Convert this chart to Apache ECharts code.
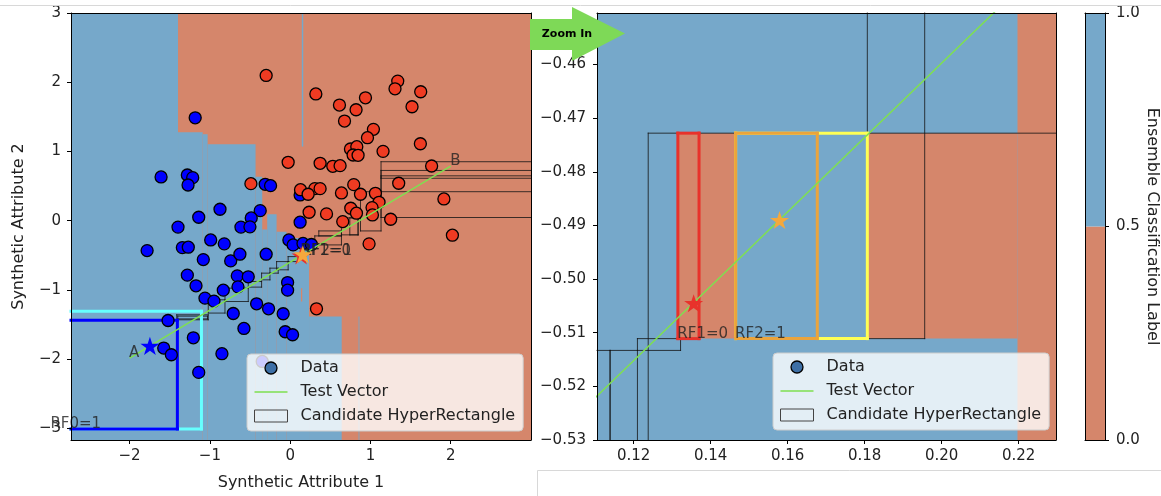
<!DOCTYPE html>
<html>
<head>
<meta charset="utf-8">
<script src="https://cdn.jsdelivr.net/npm/echarts@6/dist/echarts.min.js"></script>
<style>
  html, body { margin: 0; padding: 0; background: #ffffff; }
  #chart { width: 1161px; height: 496px; }
</style>
</head>
<body>
<div id="chart"></div>
<script>
// ---------- data ----------
// Sample points, class 1 (blue) and class 0 (red)
const class1Points = [
  [-1.183, 1.486], [-1.608, 0.631], [-1.281, 0.659], [-1.214, 0.621], [-1.272, 0.515],
  [-0.874, 0.164], [-1.139, 0.049], [-1.397, -0.094], [-0.373, 0.144], [-0.485, 0.039],
  [-0.613, -0.094], [-0.501, -0.090], [-0.311, 0.525], [-0.244, 0.505], [0.124, 0.371],
  [0.124, -0.023], [-1.782, -0.433], [-1.343, -0.390], [-1.269, -0.384], [-0.990, -0.279],
  [-0.821, -0.336], [-1.082, -0.563], [-0.741, -0.582], [-0.626, -0.485], [-0.299, -0.485],
  [-0.016, -0.279], [0.037, -0.351], [0.160, -0.330], [0.265, -0.345], [-1.281, -0.788],
  [-1.173, -0.942], [-0.659, -0.798], [-0.522, -0.812], [-0.833, -1.005], [-0.650, -0.957],
  [-1.061, -1.120], [-0.949, -1.163], [-0.418, -1.202], [-0.269, -1.274], [-0.032, -0.895],
  [-0.032, -1.005], [-0.087, -1.346], [-0.709, -1.342], [-1.521, -1.443], [-0.576, -1.558],
  [-0.062, -1.606], [0.030, -1.649], [-1.206, -1.693], [-1.575, -1.841], [-1.480, -1.938],
  [-0.850, -1.923], [-1.139, -2.193], [-0.348, -2.035]
];
const class0Points = [
  [-0.299, 2.098], [0.320, 1.830], [1.340, 2.016], [1.306, 1.905], [1.626, 1.862],
  [1.518, 1.645], [0.614, 1.670], [0.938, 1.775], [0.821, 1.602], [0.677, 1.439],
  [1.037, 1.319], [0.963, 1.198], [1.622, 1.111], [0.751, 1.035], [0.830, 1.068],
  [0.784, 0.948], [0.846, 0.944], [1.157, 1.001], [-0.025, 0.843], [0.373, 0.828],
  [0.531, 0.785], [0.622, 0.794], [1.762, 0.789], [-0.489, 0.534], [1.352, 0.540],
  [0.792, 0.520], [0.129, 0.447], [0.307, 0.462], [0.373, 0.462], [0.224, 0.381],
  [0.639, 0.400], [0.876, 0.381], [1.062, 0.395], [1.915, 0.313], [1.107, 0.265],
  [0.755, 0.179], [1.020, 0.188], [0.826, 0.107], [1.025, 0.082], [0.236, 0.121],
  [0.453, 0.097], [0.655, -0.014], [1.252, 0.020], [2.021, -0.211], [0.983, -0.336],
  [0.328, -1.274]
];

// Test vector end points and the stars placed on it
const pointA = [-2, -1.9855];
const pointB = [2, 0.7886];
const starStart = [-1.747, -1.810];
const starRF1 = [0.1356, -0.5045];
const starRF2 = [0.1579, -0.4890];

// Ensemble decision regions: [x0, x1, y0, y1, label]
const leftRegionCells = [
  [-4, 4, -4, 4, 0],
  [-4, -1.397, -4, 4, 1],
  [-1.397, -1.090, -4, 1.276, 1],
  [-1.090, -1.028, -4, 1.247, 1],
  [-1.028, -0.431, -4, 1.102, 1],
  [-0.431, -0.348, -4, 0.635, 1],
  [-0.348, -0.286, -4, -0.130, 1],
  [-0.286, -0.169, -4, 0.092, 1],
  [-0.169, -0.045, -4, -0.160, 1],
  [-0.045, 0.235, -4, -0.250, 1],
  [0.235, 0.642, -4, -1.385, 1],
  [0.145, 0.163, 1.070, 4, 1],
  [0.852, 0.862, -4, -1.385, 1],
  [0.135, 0.150, -1.169, -0.976, 0]
];
const rightRegionCells = [
  [0, 1, -1, 0, 1],
  [0.2197, 1, -1, 0, 0],
  [0.1315, 0.1465, -0.5111, -0.4728, 0],
  [0.1807, 0.2197, -0.5111, -0.4728, 0]
];
const colorbarCells = [
  [0, 1, 0, 0.5, 0],
  [0, 1, 0.5, 1, 1]
];

// Candidate hyper-rectangles: [x0, x1, y0, y1]
const leftCandidateBoxes = [
  [-1.413, -1.020, -1.433, -1.361],
  [-1.400, -1.030, -1.420, -1.380],
  [-1.020, -0.812, -1.336, -1.144],
  [-0.812, -0.522, -1.169, -0.976],
  [-0.522, -0.356, -0.961, -0.880],
  [-0.356, -0.252, -0.856, -0.759],
  [-0.252, -0.149, -0.759, -0.687],
  [-0.169, -0.025, -0.711, -0.592],
  [-0.025, 0.100, -0.592, -0.520],
  [0.307, 0.639, -0.351, -0.221],
  [0.357, 0.639, -0.221, -0.149],
  [0.639, 0.846, -0.206, 0.040],
  [0.743, 0.846, -0.206, 0.040],
  [0.876, 1.132, -0.149, 0.418],
  [1.132, 4, 0.045, 0.851],
  [1.132, 4, 0.418, 0.725],
  [1.132, 4, 0.612, 0.647]
];
const rightCandidateBoxes = [
  [0.1238, 1, -1, -0.4728],
  [0.1807, 0.1956, -0.5111, 0],
  [0.1210, 0.1322, -0.5133, -0.5111],
  [0, 0.1139, -1, -0.5133],
  [0.1139, 0.1210, -1, -0.5133]
];

// Per-forest boxes
const rf0Boxes = [
  [-3.2, -1.105, -3.01, -1.31],
  [-3.2, -1.405, -3.01, -1.44]
];
const rf12Boxes = [
  [0.1465, 0.1807, -0.5111, -0.4728],
  [0.1465, 0.1677, -0.5111, -0.4728],
  [0.1315, 0.1370, -0.5111, -0.4728]
];

// Annotations
const leftNoteTexts = ['A', 'B', 'RF0=1', 'RF1=0', 'RF2=1'];
const leftNoteAnchors = [pointA, pointB, [-2.98, -3.01], [0.1315, -0.5111], [0.1465, -0.5111]];
const rightNoteTexts = ['RF1=0', 'RF2=1'];
const rightNoteAnchors = [[0.1315, -0.5111], [0.1465, -0.5111]];

// Tick values
const leftXTicks = [-2, -1, 0, 1, 2];
const leftYTicks = [-3, -2, -1, 0, 1, 2, 3];
const rightXTicks = [0.12, 0.14, 0.16, 0.18, 0.20, 0.22];
const rightYTicks = [-0.53, -0.52, -0.51, -0.50, -0.49, -0.48, -0.47, -0.46];
const colorbarTicks = [0, 0.5, 1];

// ---------- styles ----------
const FONT = 'DejaVu Sans';
const TEXT = '#222222';
const REGION_COLORS = ['#d5866b', '#76a8ca'];   // label 0, label 1
const RED_PT = '#ef3b22';
const BLUE_PT = '#0000ff';
const LINE_GREEN = '#7fe050';
const BOX_LINE = 'rgba(20,20,20,0.8)';
const RF0_COLORS = ['#66ffff', '#0000ff'];
const RF12_COLORS = ['#ffff55', '#eba43c', '#e8322b'];
const STAR = 'path://M50,0L61.2,34.5L97.6,34.5L68.2,55.9L79.4,90.5L50,69.1L20.6,90.5L31.8,55.9L2.4,34.5L38.8,34.5Z';

const LEFT = { x: [-2.73, 3.0], y: [-3.17, 3.0] };
const RIGHT = { x: [0.1105, 0.2297], y: [-0.53, -0.4504] };
const CB = { x: [0, 1], y: [0, 1] };

const minusFmt = d => v => (v < 0 ? '\u2212' : '') + Math.abs(v).toFixed(d);

// ---------- renderers ----------
function cellRenderer(range, palette) {
  return function (params, api) {
    const x0 = Math.max(api.value(0), range.x[0]);
    const x1 = Math.min(api.value(1), range.x[1]);
    const y0 = Math.max(api.value(2), range.y[0]);
    const y1 = Math.min(api.value(3), range.y[1]);
    if (!(x0 < x1 && y0 < y1)) return null;
    const p = api.coord([x0, y1]);
    const q = api.coord([x1, y0]);
    return {
      type: 'rect',
      shape: { x: p[0], y: p[1], width: q[0] - p[0], height: q[1] - p[1] },
      style: { fill: palette[api.value(4)] }
    };
  };
}

// Draws the visible edges of a box, clipped to the axis ranges
function outlineRenderer(range, colorOf, width) {
  return function (params, api) {
    const x0 = api.value(0), x1 = api.value(1), y0 = api.value(2), y1 = api.value(3);
    const segs = [];
    [y0, y1].forEach(function (y) {
      if (y < range.y[0] || y > range.y[1]) return;
      const a = Math.max(x0, range.x[0]), b = Math.min(x1, range.x[1]);
      if (a < b) segs.push([[a, y], [b, y]]);
    });
    [x0, x1].forEach(function (x) {
      if (x < range.x[0] || x > range.x[1]) return;
      const a = Math.max(y0, range.y[0]), b = Math.min(y1, range.y[1]);
      if (a < b) segs.push([[x, a], [x, b]]);
    });
    const stroke = colorOf(params.dataIndex);
    return {
      type: 'group',
      children: segs.map(function (s) {
        const p = api.coord(s[0]), q = api.coord(s[1]);
        return {
          type: 'line',
          shape: { x1: p[0], y1: p[1], x2: q[0], y2: q[1] },
          style: { stroke: stroke, lineWidth: width, lineCap: 'square' }
        };
      })
    };
  };
}

// ---------- axes ----------
function valueAxis(grid, pos, range, ticks, fmt, extra) {
  const showLabels = !!ticks;
  return Object.assign({
    type: 'value', gridIndex: grid, position: pos,
    min: range[0], max: range[1], z: 10,
    axisLine: { show: true, onZero: false, lineStyle: { color: '#000', width: 1 } },
    axisTick: showLabels
      ? { show: true, length: 4, customValues: ticks, lineStyle: { color: '#000', width: 1 } }
      : { show: false },
    axisLabel: showLabels
      ? { show: true, customValues: ticks, formatter: fmt, fontFamily: FONT, fontSize: 15, color: TEXT, margin: 9 }
      : { show: false },
    splitLine: { show: false }
  }, extra || {});
}

const xAxes = [
  valueAxis(0, 'bottom', LEFT.x, leftXTicks, minusFmt(0), {
    name: 'Synthetic Attribute 1', nameLocation: 'middle', nameGap: 35,
    nameTextStyle: { fontFamily: FONT, fontSize: 16, color: TEXT }
  }),
  valueAxis(0, 'top', LEFT.x, null),
  valueAxis(1, 'bottom', RIGHT.x, rightXTicks, minusFmt(2)),
  valueAxis(1, 'top', RIGHT.x, null),
  valueAxis(2, 'bottom', CB.x, null),
  valueAxis(2, 'top', CB.x, null)
];
const yAxes = [
  valueAxis(0, 'left', LEFT.y, leftYTicks, minusFmt(0), {
    name: 'Synthetic Attribute 2', nameLocation: 'middle', nameGap: 44, nameRotate: 90,
    nameTextStyle: { fontFamily: FONT, fontSize: 16, color: TEXT }
  }),
  valueAxis(0, 'right', LEFT.y, null),
  valueAxis(1, 'left', RIGHT.y, rightYTicks, minusFmt(2)),
  valueAxis(1, 'right', RIGHT.y, null),
  valueAxis(2, 'right', CB.y, colorbarTicks, minusFmt(1), {
    name: 'Ensemble Classification Label', nameLocation: 'middle', nameGap: 25, nameRotate: -90,
    nameTextStyle: { fontFamily: FONT, fontSize: 16, color: TEXT }
  }),
  valueAxis(2, 'left', CB.y, null)
];
yAxes[2].axisLabel.margin = 11;
yAxes[0].axisLabel.margin = 10;
yAxes[4].axisLabel.margin = 11;

// ---------- series ----------
function noteSeries(xi, yi, texts, anchors) {
  return {
    type: 'scatter', xAxisIndex: xi, yAxisIndex: yi, name: 'notes',
    clip: false, silent: true, z: 6,
    symbol: 'circle', symbolSize: 1,
    itemStyle: { color: 'rgba(0,0,0,0)' },
    label: {
      show: true, position: [0, 0], align: 'left', verticalAlign: 'bottom', offset: [0, 3],
      fontFamily: FONT, fontSize: 15, color: TEXT,
      formatter: function (p) { return p.name; }
    },
    data: texts.map(function (t, i) { return { name: t, value: anchors[i] }; })
  };
}
function starSeries(xi, yi, pos, color, size) {
  return {
    type: 'scatter', xAxisIndex: xi, yAxisIndex: yi, name: 'star',
    silent: true, z: 7, symbol: STAR, symbolSize: size, symbolKeepAspect: true,
    itemStyle: { color: color, opacity: 1 },
    data: [pos]
  };
}
function pointSeries(points, color) {
  return {
    type: 'scatter', xAxisIndex: 0, yAxisIndex: 0, name: 'Data',
    silent: true, z: 3, symbol: 'circle', symbolSize: 12,
    itemStyle: { color: color, borderColor: '#000', borderWidth: 1.3, opacity: 1 },
    data: points
  };
}

const series = [
  // left panel
  { type: 'custom', name: 'regions', xAxisIndex: 0, yAxisIndex: 0, silent: true, z: 1,
    renderItem: cellRenderer(LEFT, REGION_COLORS), data: leftRegionCells },
  { type: 'custom', name: 'Candidate HyperRectangle', xAxisIndex: 0, yAxisIndex: 0, silent: true, z: 2,
    renderItem: outlineRenderer(LEFT, function () { return BOX_LINE; }, 1), data: leftCandidateBoxes },
  { type: 'custom', name: 'rf0', xAxisIndex: 0, yAxisIndex: 0, silent: true, z: 2,
    renderItem: outlineRenderer(LEFT, function (i) { return RF0_COLORS[i]; }, 3), data: rf0Boxes },
  { type: 'custom', name: 'rf12', xAxisIndex: 0, yAxisIndex: 0, silent: true, z: 2,
    renderItem: outlineRenderer(LEFT, function (i) { return RF12_COLORS[i]; }, 2), data: rf12Boxes },
  pointSeries(class1Points, BLUE_PT),
  pointSeries(class0Points, RED_PT),
  { type: 'line', name: 'Test Vector', xAxisIndex: 0, yAxisIndex: 0, silent: true, z: 5,
    showSymbol: false, symbol: 'none', clip: true,
    lineStyle: { color: LINE_GREEN, width: 1.5 }, itemStyle: { color: LINE_GREEN },
    data: [pointA, pointB] },
  noteSeries(0, 0, leftNoteTexts, leftNoteAnchors),
  starSeries(0, 0, starStart, '#0000ff', 19),
  starSeries(0, 0, starRF1, '#e8322b', 19),
  starSeries(0, 0, starRF2, '#f5a83c', 19),

  // right panel
  { type: 'custom', name: 'regions', xAxisIndex: 2, yAxisIndex: 2, silent: true, z: 1,
    renderItem: cellRenderer(RIGHT, REGION_COLORS), data: rightRegionCells },
  { type: 'custom', name: 'Candidate HyperRectangle', xAxisIndex: 2, yAxisIndex: 2, silent: true, z: 2,
    renderItem: outlineRenderer(RIGHT, function () { return BOX_LINE; }, 1), data: rightCandidateBoxes },
  { type: 'custom', name: 'rf12', xAxisIndex: 2, yAxisIndex: 2, silent: true, z: 3,
    renderItem: outlineRenderer(RIGHT, function (i) { return RF12_COLORS[i]; }, 3), data: rf12Boxes },
  { type: 'line', name: 'Test Vector', xAxisIndex: 2, yAxisIndex: 2, silent: true, z: 5,
    showSymbol: false, symbol: 'none', clip: true,
    lineStyle: { color: LINE_GREEN, width: 1.5 }, itemStyle: { color: LINE_GREEN },
    data: [pointA, pointB] },
  noteSeries(2, 2, rightNoteTexts, rightNoteAnchors),
  starSeries(2, 2, starRF1, '#e8322b', 19),
  starSeries(2, 2, starRF2, '#f5a83c', 19),

  // colour bar
  { type: 'custom', name: 'colorbar', xAxisIndex: 4, yAxisIndex: 4, silent: true, z: 1,
    renderItem: cellRenderer(CB, REGION_COLORS), data: colorbarCells }
];

// ---------- legends ----------
const LINE_ICON = 'path://M0,0L0.01,0M0,5.3L33,5.3L33,6.7L0,6.7ZM0,12L0.01,12';
function legendCfg(left, top) {
  return {
    left: left, top: top, orient: 'vertical', z: 20,
    itemWidth: 33, itemHeight: 12, itemGap: 6,
    padding: [5, 8, 6, 7],
    backgroundColor: 'rgba(255,255,255,0.8)', borderColor: '#cccccc', borderWidth: 1, borderRadius: 4,
    selectedMode: false,
    textStyle: { fontFamily: FONT, fontSize: 16, color: TEXT, lineHeight: 18, padding: [0, 0, 0, 8] },
    data: [
      { name: 'Data', icon: 'circle', itemStyle: { color: '#3d6fa6', borderColor: '#000', borderWidth: 1.3 } },
      { name: 'Test Vector', icon: LINE_ICON, itemStyle: { color: LINE_GREEN, borderWidth: 0 } },
      { name: 'Candidate HyperRectangle', icon: 'rect',
        itemStyle: { color: 'rgba(255,255,255,0)', borderColor: '#444', borderWidth: 1 } }
    ]
  };
}

const option = {
  animation: false,
  backgroundColor: '#ffffff',
  grid: [
    { left: 71, top: 13, width: 460, height: 427 },
    { left: 597, top: 13, width: 459, height: 427 },
    { left: 1085, top: 13, width: 20, height: 427 }
  ],
  xAxis: xAxes,
  yAxis: yAxes,
  legend: [legendCfg(247, 354), legendCfg(773, 353)],
  series: series,
  graphic: [
    { type: 'line', z: 100, silent: true, shape: { x1: 0, y1: 5.5, x2: 1161, y2: 5.5 },
      style: { stroke: '#d8d8d8', lineWidth: 1 } },
    { type: 'polyline', z: 100, silent: true, shape: { points: [[537.5, 496], [537.5, 470.5], [1161, 470.5]] },
      style: { stroke: '#d8d8d8', lineWidth: 1, fill: null } },
    { type: 'polygon', z: 100, silent: true,
      shape: { points: [[530, 19], [572, 19], [572, 7], [625, 33.5], [572, 61], [572, 50], [530, 50]] },
      style: { fill: '#7ed957' } },
    { type: 'text', z: 101, silent: true, x: 567, y: 34,
      style: { text: 'Zoom In', fill: '#000', font: 'bold 11px "DejaVu Sans"', align: 'center', verticalAlign: 'middle' } }
  ]
};

const chart = echarts.init(document.getElementById('chart'), null, { renderer: 'canvas' });
chart.setOption(option);
</script>
</body>
</html>
